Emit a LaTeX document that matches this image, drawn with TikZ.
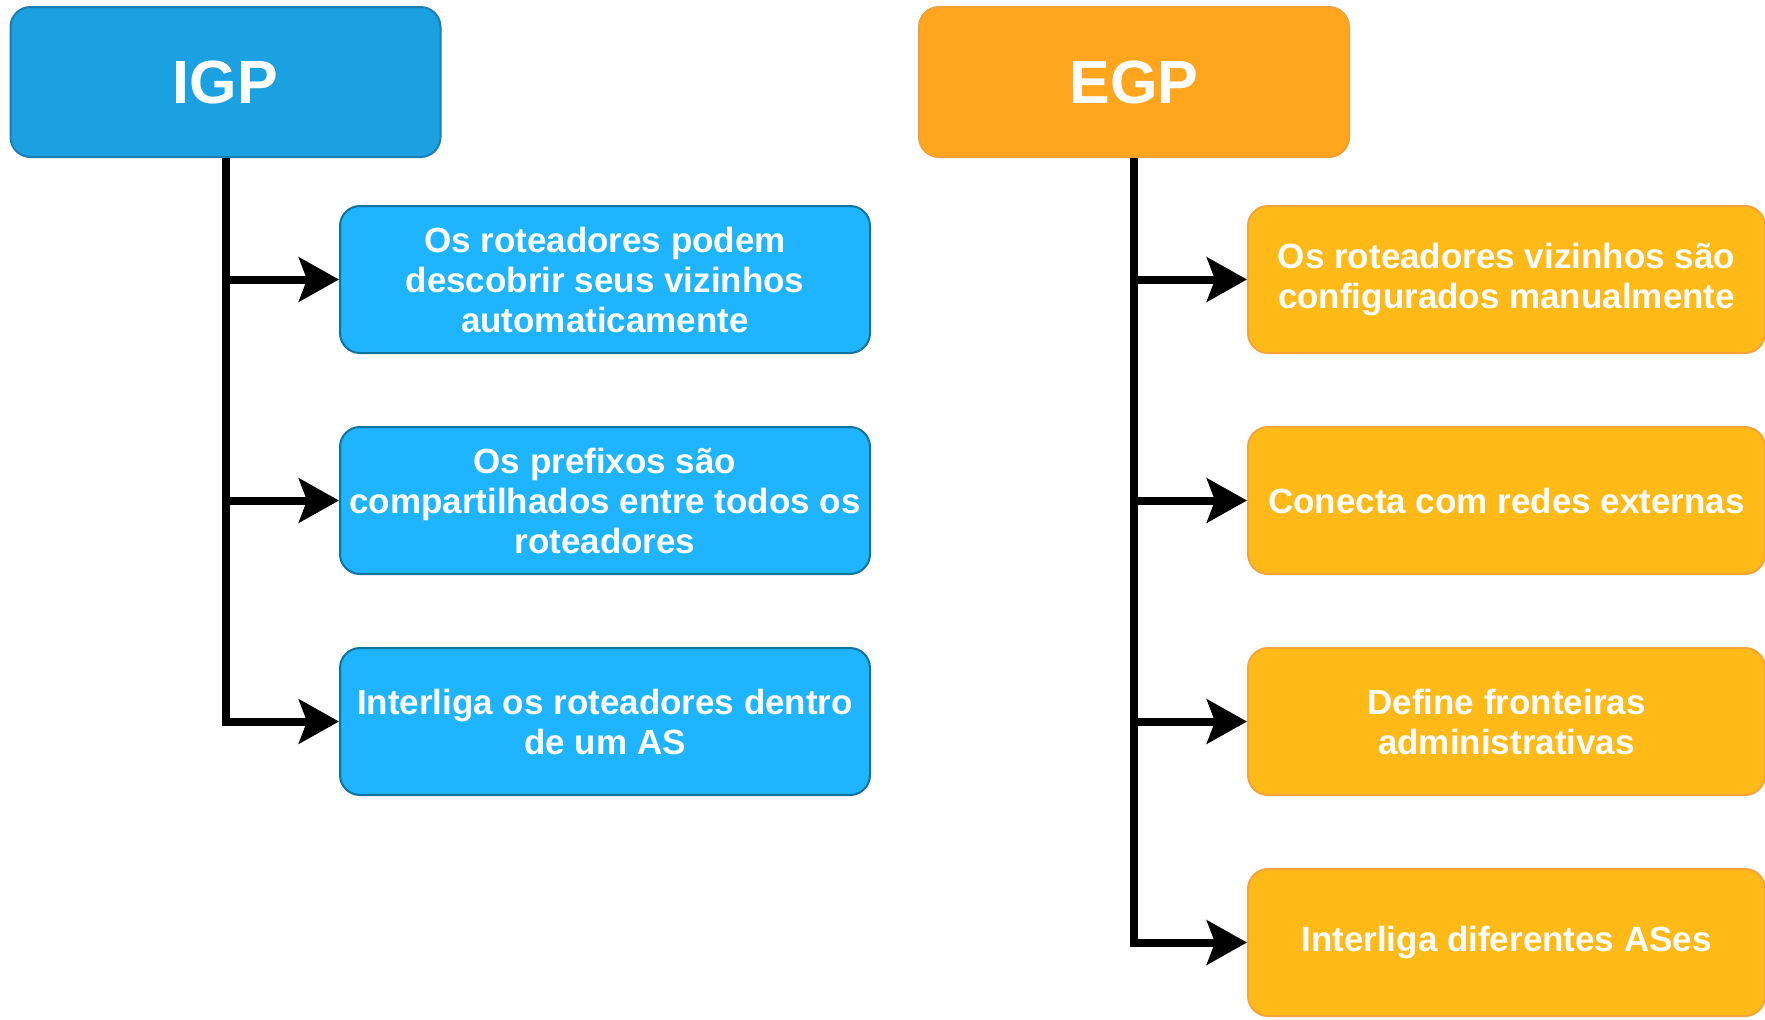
\documentclass[tikz,border=0pt]{standalone}
\usepackage{fontspec}
\setmainfont{Liberation Sans}
\usepackage{xcolor}
\usetikzlibrary{arrows.meta, positioning}
\definecolor{igpblue}{HTML}{1BA1E2}
\definecolor{igpline}{HTML}{1A7DB5}
\definecolor{itemblue}{HTML}{1EB4FF}
\definecolor{itemline}{HTML}{10739E}
\definecolor{egporange}{HTML}{FFA51E}
\definecolor{egpline}{HTML}{F5A035}
\definecolor{itemorange}{HTML}{FFBA17}
\definecolor{itemorangeline}{HTML}{F6A33A}
\tikzstyle{header} = [rectangle, rounded corners=10pt, minimum width=215pt, minimum height=75pt, text centered, line width=1pt, text=white, font=\bfseries\fontsize{30.5}{36}\selectfont]
\tikzstyle{igpheader} = [header, fill=igpblue, draw=igpline]
\tikzstyle{egpheader} = [header, fill=egporange, draw=egpline]
\tikzstyle{item} = [rectangle, rounded corners=10pt, minimum height=73.5pt, align=center, line width=1pt, text=white, inner sep=2pt, font=\bfseries\fontsize{17.5}{20}\selectfont]
\tikzstyle{igpitem} = [item, minimum width=265pt, fill=itemblue, draw=itemline]
\tikzstyle{egpitem} = [item, minimum width=258.5pt, fill=itemorange, draw=itemorangeline]
\tikzstyle{arrow} = [line width=4pt, -{Stealth[length=20pt 0, width=22pt 0, inset=4pt 0]}]

\begin{document}
\begin{tikzpicture}[node distance=36pt]
\useasboundingbox (0,0) rectangle (882.5pt,-509.5pt);

% IGP branch
\node (igp) [igpheader] at (112.75pt,-41pt) {IGP};
\node (igp-a) [igpitem, below right=23.5pt and 56.75pt of igp.south, anchor=north west] {Os roteadores podem\\descobrir seus vizinhos\\automaticamente};
\node (igp-b) [igpitem, below=of igp-a] {Os prefixos são\\compartilhados entre todos os\\roteadores};
\node (igp-c) [igpitem, below=of igp-b] {Interliga os roteadores dentro\\de um AS};

% EGP branch
\node (egp) [egpheader] at (567pt,-41pt) {EGP};
\node (egp-a) [egpitem, below right=23.5pt and 56.5pt of egp.south, anchor=north west] {Os roteadores vizinhos são\\configurados manualmente};
\node (egp-b) [egpitem, below=of egp-a] {Conecta com redes externas};
\node (egp-c) [egpitem, below=of egp-b] {Define fronteiras\\administrativas};
\node (egp-d) [egpitem, below=of egp-c] {Interliga diferentes ASes};

% Arrows
\draw [arrow] (igp.south) |- (igp-a.west);
\draw [arrow] (igp.south) |- (igp-b.west);
\draw [arrow] (igp.south) |- (igp-c.west);

\draw [arrow] (egp.south) |- (egp-a.west);
\draw [arrow] (egp.south) |- (egp-b.west);
\draw [arrow] (egp.south) |- (egp-c.west);
\draw [arrow] (egp.south) |- (egp-d.west);

\end{tikzpicture}
\end{document}
